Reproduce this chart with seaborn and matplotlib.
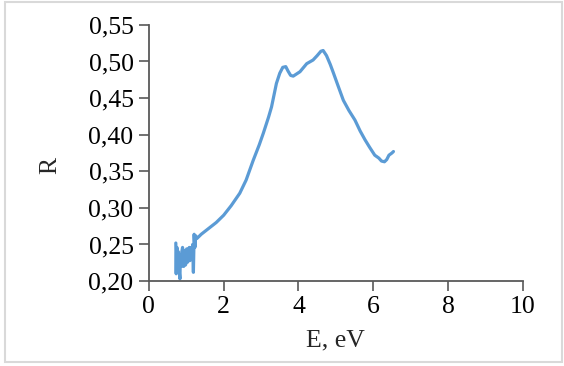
import matplotlib
matplotlib.use("Agg")
import matplotlib.pyplot as plt
from matplotlib.ticker import FuncFormatter
from matplotlib.patches import Rectangle
import seaborn as sns
import pandas as pd

# Reflectance spectrum R(E)
energy = [0.72, 0.73, 0.74, 0.75, 0.77, 0.78, 0.79, 0.81, 0.83, 0.84,
          0.85, 0.87, 0.88, 0.90, 0.92, 0.93, 0.95, 0.96, 0.98, 0.99,
          1.01, 1.02, 1.04, 1.05, 1.07, 1.08, 1.10, 1.11, 1.13, 1.14,
          1.16, 1.17, 1.19, 1.21, 1.23, 1.25, 1.28, 1.40, 1.60, 1.80,
          2.00, 2.20, 2.43, 2.60, 2.79, 2.95, 3.06, 3.20, 3.28, 3.41,
          3.50, 3.58, 3.66, 3.72, 3.79, 3.86, 3.95, 4.04, 4.22, 4.39,
          4.50, 4.60, 4.66, 4.75, 4.85, 4.93, 5.05, 5.20, 5.35, 5.51,
          5.65, 5.78, 5.90, 6.04, 6.15, 6.22, 6.30, 6.36, 6.42, 6.50,
          6.54]
reflectance = [0.252, 0.210, 0.240, 0.246, 0.222, 0.238, 0.240, 0.214, 0.203, 0.230,
               0.236, 0.220, 0.240, 0.246, 0.224, 0.220, 0.238, 0.242, 0.222, 0.226,
               0.244, 0.240, 0.226, 0.230, 0.244, 0.246, 0.228, 0.234, 0.246, 0.242,
               0.232, 0.250, 0.212, 0.264, 0.246, 0.262, 0.258, 0.264, 0.272, 0.280,
               0.290, 0.303, 0.320, 0.338, 0.365, 0.386, 0.402, 0.424, 0.438, 0.470,
               0.484, 0.492, 0.493, 0.487, 0.481, 0.480, 0.483, 0.486, 0.497, 0.502,
               0.508, 0.514, 0.515, 0.508, 0.496, 0.485, 0.468, 0.447, 0.433, 0.420,
               0.405, 0.393, 0.383, 0.372, 0.368, 0.364, 0.363, 0.366, 0.372, 0.375,
               0.377]

x_ticks = [0, 2, 4, 6, 8, 10]
y_ticks = [0.20, 0.25, 0.30, 0.35, 0.40, 0.45, 0.50, 0.55]

df = pd.DataFrame({'E': energy, 'R': reflectance})

sns.set_style("ticks")
plt.rcParams['font.family'] = ['Liberation Serif', 'DejaVu Serif']

fig = plt.figure(figsize=(5.64, 3.66), dpi=100)
ax = fig.add_axes([0.264, 0.232, 0.663, 0.700])

sns.lineplot(data=df, x='E', y='R', ax=ax, sort=False, estimator=None,
             color='#5b9bd5', linewidth=2.3)

ax.set_xlim(0, 10)
ax.set_ylim(0.20, 0.55)
ax.set_xticks(x_ticks)
ax.set_yticks(y_ticks)
ax.yaxis.set_major_formatter(FuncFormatter(lambda v, p: f"{v:.2f}".replace('.', ',')))

for side in ['top', 'right']:
    ax.spines[side].set_visible(False)
for side in ['left', 'bottom']:
    ax.spines[side].set_color('#595959')
    ax.spines[side].set_linewidth(1.3)

ax.tick_params(axis='both', direction='out', length=7, width=1.2,
               color='#595959', labelsize=18.5, labelcolor='black', pad=4)

ax.set_xlabel('E, eV', fontsize=18.5, labelpad=8)
ax.set_ylabel('R', fontsize=18.5)
ax.yaxis.set_label_coords(-0.235, 0.45)

# light grey frame around the whole picture
fig.patches.append(Rectangle((5 / 564, 4 / 366), 557 / 564, 360 / 366,
                             transform=fig.transFigure, fill=False,
                             edgecolor='#d9d9d9', linewidth=1.5))

plt.savefig('out.png', dpi=100)
plt.close()
